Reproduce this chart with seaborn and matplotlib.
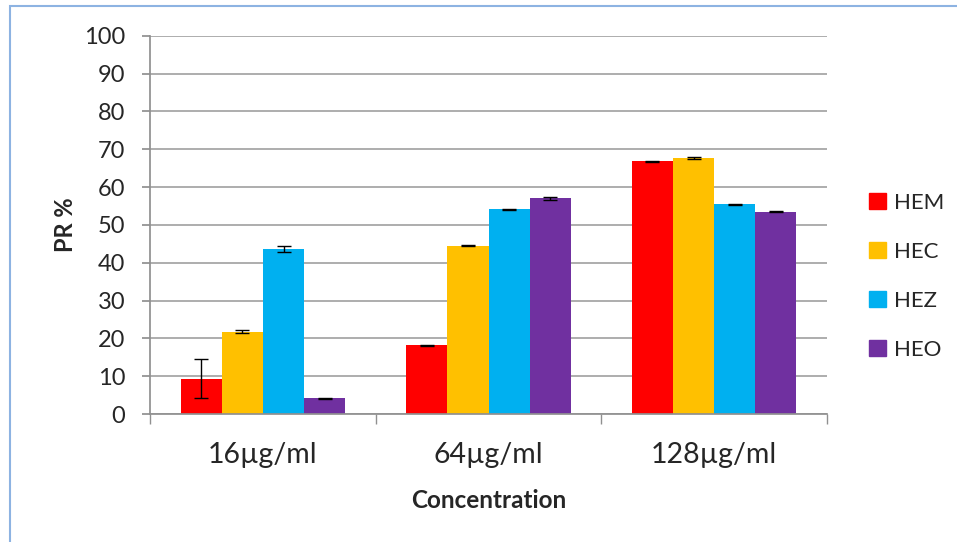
import numpy as np
import pandas as pd
import matplotlib.pyplot as plt
import matplotlib.patches as mpatches
import seaborn as sns

sns.set_theme(style="white")
plt.rcParams['font.family'] = ['Lato', 'DejaVu Sans']

# data
concentrations = ["16µg/ml", "64µg/ml", "128µg/ml"]
extracts = ["HEM", "HEC", "HEZ", "HEO"]
hem = [9.4, 18.2, 66.8]
hec = [21.8, 44.5, 67.7]
hez = [43.7, 54.1, 55.5]
heo = [4.2, 57.0, 53.5]
hem_err = [5.1, 0.15, 0.15]
hec_err = [0.4, 0.15, 0.15]
hez_err = [0.8, 0.15, 0.15]
heo_err = [0.1, 0.3, 0.2]
colors = ["#ff0000", "#ffc000", "#00b0f0", "#7030a0"]

df = pd.DataFrame({
    "Concentration": concentrations * 4,
    "Extract": np.repeat(extracts, 3),
    "PR": hem + hec + hez + heo,
    "err": hem_err + hec_err + hez_err + heo_err,
})

fig = plt.figure(figsize=(9.57, 5.42), dpi=100)
ax = fig.add_axes([0.157, 0.236, 0.707, 0.698])

sns.barplot(data=df, x="Concentration", y="PR", hue="Extract",
            palette=colors, width=0.73, errorbar=None, ax=ax,
            saturation=1, linewidth=0, legend=False)

# error bars
for cont, ext in zip(ax.containers, extracts):
    sub = df[df["Extract"] == ext]
    xs = [b.get_x() + b.get_width() / 2 for b in cont]
    ax.errorbar(xs, sub["PR"], yerr=sub["err"], fmt="none",
                ecolor="black", elinewidth=1, capsize=5, capthick=1, zorder=5)

ax.set_ylim(0, 100)
ax.set_xlim(-0.5, 2.5)
ax.set_yticks(range(0, 101, 10))
ax.yaxis.grid(True, color="#a0a0a0", linewidth=1.2)
ax.set_axisbelow(True)
for s in ["top", "right"]:
    ax.spines[s].set_visible(False)
for s in ["left", "bottom"]:
    ax.spines[s].set_color("#909090")
ax.tick_params(axis="y", length=6, color="#909090", labelsize=17, pad=12,
               left=True, direction="out")
ax.tick_params(axis="x", length=0, labelsize=20.5, pad=20)
# group separator ticks
ax.set_xticks([-0.5, 0.5, 1.5, 2.5], minor=True)
ax.tick_params(axis="x", which="minor", length=7, color="#909090",
               bottom=True, direction="out")

ax.set_ylabel("PR %", fontsize=17, fontweight="bold", labelpad=5)
ax.set_xlabel("Concentration", fontsize=17.5, fontweight="bold", labelpad=15)

handles = [mpatches.Patch(color=c, label=l) for c, l in zip(colors, extracts)]
fig.legend(handles=handles, loc="center left", bbox_to_anchor=(0.887, 0.49),
           frameon=False, fontsize=16, handlelength=0.75, handleheight=0.75,
           handletextpad=0.4, labelspacing=1.3)

# outer frame
fig.patches.append(mpatches.Rectangle((10 / 957, -0.05), 1.2, 1.05 - 6 / 542,
                                      transform=fig.transFigure, fill=False,
                                      edgecolor="#8db3e2", linewidth=1.5))

fig.savefig("out.png", dpi=100)
